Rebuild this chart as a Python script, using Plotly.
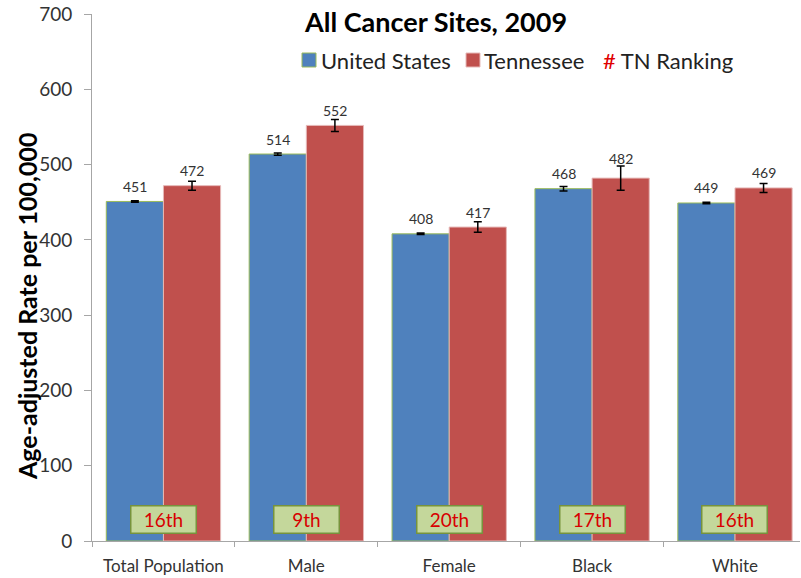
import plotly.graph_objects as go

categories = ["Total Population", "Male", "Female", "Black", "White"]
us_values = [451, 514, 408, 468, 449]
tn_values = [472, 552, 417, 482, 469]
us_err = [1, 1.5, 1, 3, 1]
tn_err = [6, 8, 7, 16, 6]
tn_rank = ["16th", "9th", "20th", "17th", "16th"]

BLUE = "#4F81BD"
RED = "#C0504D"
FONT = "Lato"

W, H = 801, 578
L, R, T, B = 92, 1, 14, 37
pw, ph = W - L - R, H - T - B
YMAX = 700
scale = ph / YMAX


def px(x):  # screen x -> paper
    return (x - L) / pw


def py(y):  # screen y -> paper
    return (H - B - y) / ph


fig = go.Figure()
fig.add_trace(go.Bar(
    x=categories, y=us_values, name="United States",
    marker=dict(color=BLUE, line=dict(color="#9BBB59", width=1)),
    error_y=dict(type="data", array=us_err, color="black", thickness=1.5, width=4),
))
fig.add_trace(go.Bar(
    x=categories, y=tn_values, name="Tennessee",
    marker=dict(color=RED, line=dict(color="#E6B9B8", width=1)),
    error_y=dict(type="data", array=tn_err, color="black", thickness=1.5, width=4),
))

annotations = []
lab_font = dict(family=FONT, size=14, color="#333")
for c, v, e in zip(categories, us_values, us_err):
    annotations.append(dict(x=c, y=v, xref="x", yref="y", text=str(v), showarrow=False,
                            xshift=-28.6, yshift=max(15, e * scale + 8), font=lab_font))
for c, v, e in zip(categories, tn_values, tn_err):
    annotations.append(dict(x=c, y=v, xref="x", yref="y", text=str(v), showarrow=False,
                            xshift=28.6, yshift=max(15, e * scale + 8), font=lab_font))
# ranking boxes
for c, r in zip(categories, tn_rank):
    annotations.append(dict(x=c, y=29, xref="x", yref="y", text=r, showarrow=False,
                            width=62, height=24, bgcolor="#C4D79B", bordercolor="#77933C",
                            borderwidth=1.5, borderpad=1,
                            font=dict(family=FONT, size=19, color="#D80000")))
# title
annotations.append(dict(x=px(435), y=py(3), xref="paper", yref="paper",
                        xanchor="center", yanchor="top",
                        text="<b>All Cancer Sites, 2009</b>", showarrow=False,
                        font=dict(family=FONT, size=27, color="black")))
# y axis title
annotations.append(dict(x=px(27), y=py(307), xref="paper", yref="paper",
                        xanchor="center", yanchor="middle", textangle=-90,
                        text="<b>Age-adjusted Rate per 100,000</b>", showarrow=False,
                        font=dict(family=FONT, size=25, color="black")))
# custom legend
leg_font = dict(family=FONT, size=22, color="#222")
for xx, txt in [(319, "United States"), (482, "Tennessee"),
                (601, "<span style='color:#E00000'>#</span> TN Ranking")]:
    annotations.append(dict(x=px(xx), y=py(60), xref="paper", yref="paper", text=txt,
                            showarrow=False, xanchor="left", yanchor="middle", font=leg_font))

shapes = [
    dict(type="rect", xref="paper", yref="paper", x0=px(302), x1=px(316), y0=py(67), y1=py(53),
         fillcolor=BLUE, line=dict(color="#9BBB59", width=1)),
    dict(type="rect", xref="paper", yref="paper", x0=px(466), x1=px(480), y0=py(67), y1=py(53),
         fillcolor=RED, line=dict(color="#E6B9B8", width=1)),
]

fig.update_layout(
    width=W, height=H,
    margin=dict(l=L, r=R, t=T, b=B, autoexpand=False),
    paper_bgcolor="white", plot_bgcolor="white",
    barmode="group", bargap=0.2, bargroupgap=0,
    showlegend=False,
    annotations=annotations, shapes=shapes,
    font=dict(family=FONT, color="#333"),
)
fig.update_yaxes(
    range=[0, YMAX], dtick=100, showgrid=False, zeroline=False, automargin=False,
    showline=True, linecolor="#A6A6A6", linewidth=1,
    ticks="outside", ticklen=7, tickcolor="#A6A6A6", ticklabeloverflow="allow",
    tickfont=dict(family=FONT, size=19, color="#333"), ticklabelstandoff=8,
)
fig.update_xaxes(
    range=[-0.5, 4.455], showgrid=False, zeroline=False, automargin=False,
    showline=True, linecolor="#A6A6A6", linewidth=1,
    ticks="outside", ticklen=5, tickcolor="#A6A6A6", tickson="boundaries",
    tickfont=dict(family=FONT, size=17, color="#333"), ticklabelstandoff=10,
)

fig.write_html("out.html", config={"displayModeBar": False},
               post_script="document.body.style.margin='0px';document.body.style.overflow='hidden';")
